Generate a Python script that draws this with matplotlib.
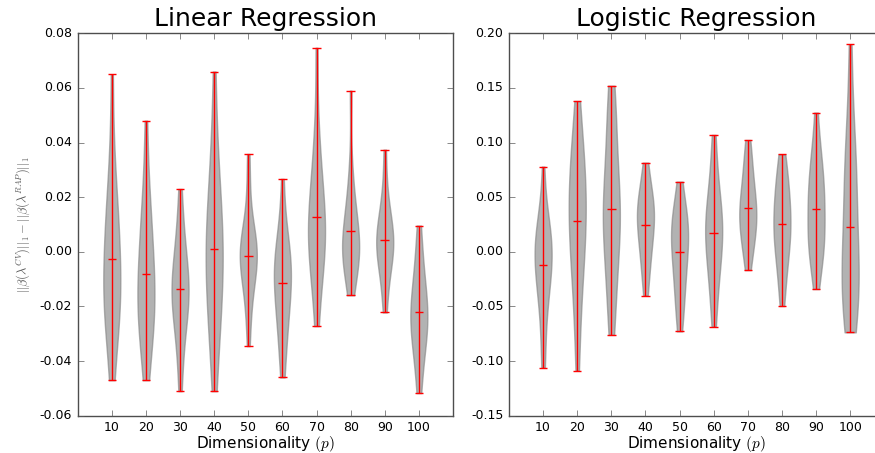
import matplotlib
matplotlib.use("Agg")
import matplotlib.pyplot as plt

plt.style.use("classic")
plt.rcParams["font.family"] = ["DejaVu Sans"]
plt.rcParams["mathtext.fontset"] = "cm"

dims = [10, 20, 30, 40, 50, 60, 70, 80, 90, 100]

# differences of the L1 norms, one list per dimensionality
lin_runs = [
    [-0.047, -0.038, -0.030, -0.025, -0.022, -0.019, -0.017, -0.015, -0.012, -0.009,
     -0.005, 0.000, 0.004, 0.008, 0.011, 0.014, 0.020, 0.028, 0.040, 0.065],
    [-0.047, -0.040, -0.034, -0.030, -0.026, -0.023, -0.021, -0.019, -0.016, -0.013,
     -0.010, -0.007, -0.003, 0.001, 0.005, 0.009, 0.014, 0.020, 0.030, 0.048],
    [-0.051, -0.040, -0.033, -0.028, -0.024, -0.021, -0.019, -0.017, -0.015, -0.013,
     -0.011, -0.009, -0.006, -0.003, 0.001, 0.006, 0.012, 0.023],
    [-0.051, -0.040, -0.032, -0.026, -0.021, -0.017, -0.013, -0.009, -0.005, -0.002,
     0.001, 0.004, 0.008, 0.012, 0.016, 0.021, 0.027, 0.035, 0.046, 0.066],
    [-0.0345, -0.024, -0.017, -0.012, -0.009, -0.006, -0.004, -0.002, -0.001, 0.000,
     0.001, 0.002, 0.004, 0.007, 0.011, 0.024, 0.0358],
    [-0.046, -0.038, -0.032, -0.027, -0.023, -0.020, -0.017, -0.014, -0.011, -0.009,
     -0.007, -0.005, -0.003, -0.001, 0.002, 0.006, 0.012, 0.0267],
    [-0.0272, -0.016, -0.008, -0.003, 0.000, 0.002, 0.004, 0.006, 0.009, 0.012,
     0.015, 0.019, 0.023, 0.028, 0.035, 0.046, 0.0747],
    [-0.0159, -0.010, -0.006, -0.003, -0.002, -0.001, 0.000, 0.001, 0.003, 0.005,
     0.007, 0.010, 0.013, 0.017, 0.021, 0.030, 0.059],
    [-0.0222, -0.014, -0.008, -0.004, -0.001, 0.001, 0.002, 0.003, 0.005, 0.007, 0.009,
     0.012, 0.016, 0.023, 0.0374],
    [-0.0517, -0.043, -0.037, -0.033, -0.030, -0.027, -0.025, -0.023, -0.021, -0.018,
     -0.015, -0.011, -0.006, 0.000, 0.0096],
]

log_runs = [
    [-0.106, -0.090, -0.065, -0.045, -0.040, -0.033, -0.024, -0.017, -0.011, -0.006,
     -0.002, 0.002, 0.006, 0.010, 0.015, 0.021, 0.030, 0.040, 0.078],
    [-0.1088, -0.075, -0.050, -0.032, -0.018, -0.006, 0.004, 0.013, 0.021, 0.029,
     0.037, 0.045, 0.053, 0.061, 0.069, 0.078, 0.088, 0.100, 0.115, 0.138],
    [-0.076, -0.055, -0.038, -0.024, -0.005, 0.007, 0.015, 0.022, 0.029, 0.036,
     0.044, 0.052, 0.061, 0.071, 0.090, 0.105, 0.125, 0.135, 0.152],
    [-0.040, -0.025, -0.013, -0.004, 0.004, 0.011, 0.017, 0.023, 0.028, 0.033,
     0.037, 0.041, 0.045, 0.050, 0.057, 0.068, 0.0816],
    [-0.0728, -0.060, -0.048, -0.038, -0.029, -0.021, -0.014, -0.007, -0.001, 0.005,
     0.011, 0.016, 0.020, 0.024, 0.028, 0.033, 0.040, 0.050, 0.0642],
    [-0.0685, -0.048, -0.033, -0.021, -0.011, -0.003, 0.004, 0.010, 0.016, 0.021,
     0.026, 0.031, 0.037, 0.044, 0.053, 0.066, 0.084, 0.107],
    [-0.0167, -0.005, 0.004, 0.011, 0.017, 0.022, 0.027, 0.031, 0.035, 0.039,
     0.044, 0.049, 0.055, 0.062, 0.070, 0.080, 0.090, 0.1023],
    [-0.0496, -0.033, -0.020, -0.010, -0.002, 0.005, 0.011, 0.016, 0.021, 0.026,
     0.031, 0.036, 0.042, 0.049, 0.058, 0.060, 0.070, 0.080, 0.0892],
    [-0.034, -0.018, -0.006, 0.000, 0.004, 0.008, 0.013, 0.021, 0.028, 0.035, 0.041,
     0.047, 0.053, 0.059, 0.065, 0.072, 0.080, 0.090, 0.100, 0.1274],
    [-0.0737, -0.065, -0.055, -0.046, -0.038, -0.030, -0.022, -0.014, -0.005, 0.006,
     0.020, 0.040, 0.055, 0.065, 0.075, 0.088, 0.105, 0.135, 0.190],
]

lin_yticks = [-0.06, -0.04, -0.02, 0.00, 0.02, 0.04, 0.06, 0.08]
log_yticks = [-0.15, -0.10, -0.05, 0.00, 0.05, 0.10, 0.15, 0.20]

ylab = r"$||\beta(\lambda^{CV})||_1 - ||\beta(\lambda^{RAP})||_1$"
xlab = r"Dimensionality $(p)$"


def draw(ax, runs, yticks, title):
    parts = ax.violinplot(runs, positions=dims, widths=5, showmeans=True, showextrema=True)
    for body in parts["bodies"]:
        body.set_facecolor("gray")
        body.set_edgecolor("gray")
        body.set_alpha(0.6)
    for key in ["cmeans", "cmins", "cmaxes", "cbars"]:
        parts[key].set_color("r")
        parts[key].set_linewidth(1.0)
    ax.set_xlim(0, 110)
    ax.set_xticks(dims)
    ax.set_ylim(yticks[0], yticks[-1])
    ax.set_yticks(yticks)
    ax.set_yticklabels(["%.2f" % t for t in yticks])
    ax.tick_params(labelsize=9, color="0.35")
    ax.set_xlabel(xlab, fontsize=11)
    ax.xaxis.set_label_coords(0.5, -0.047)
    ax.set_title(title, fontsize=18, y=1.0)
    for sp in ax.spines.values():
        sp.set_color("0.3")


fig = plt.figure(figsize=(8.75, 4.53), dpi=100, facecolor="white")
ax1 = fig.add_axes([0.0888, 0.0823, 0.4289, 0.8442])
ax2 = fig.add_axes([0.5817, 0.0823, 0.4289, 0.8442])

draw(ax1, lin_runs, lin_yticks, "Linear Regression")
draw(ax2, log_runs, log_yticks, "Logistic Regression")
ax1.set_ylabel(ylab, fontsize=9, color="0.35")

fig.savefig("out.png", dpi=100, facecolor="white")
